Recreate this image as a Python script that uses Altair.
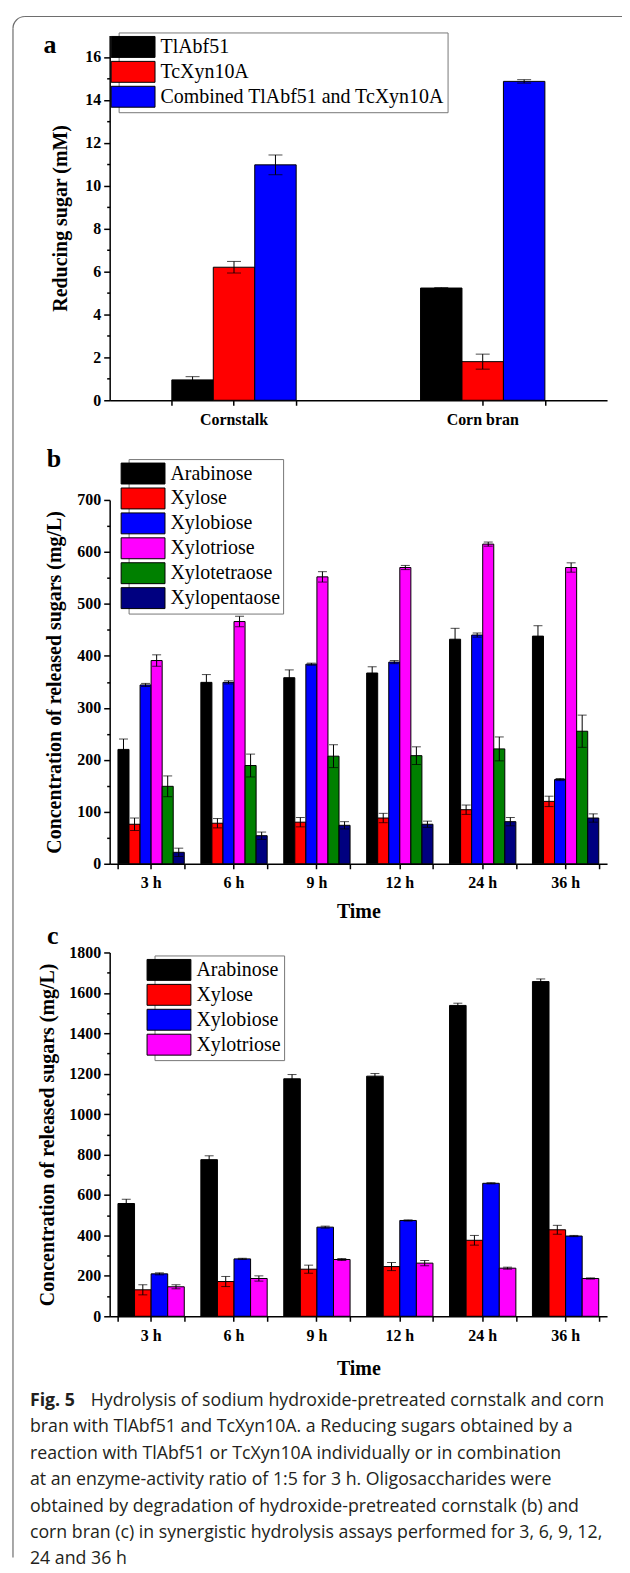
import altair as alt
import pandas as pd

SERIF = "Liberation Serif"
SANS = "Open Sans"

# ---------------- panel a data ----------------
substrates = ["Cornstalk", "Corn bran"]
enzymes = ["TlAbf51", "TcXyn10A", "Combined TlAbf51 and TcXyn10A"]
enzyme_colors = ["#000000", "#ff0000", "#0000ff"]
a_tlabf51 = [0.95, 5.23]
a_tlabf51_err = [0.15, 0.02]
a_tcxyn10a = [6.20, 1.80]
a_tcxyn10a_err = [0.27, 0.35]
a_combined = [10.97, 14.86]
a_combined_err = [0.46, 0.08]

# ---------------- panel b data ----------------
times = ["3 h", "6 h", "9 h", "12 h", "24 h", "36 h"]
sugars_b = ["Arabinose", "Xylose", "Xylobiose", "Xylotriose", "Xylotetraose", "Xylopentaose"]
colors_b = ["#000000", "#ff0000", "#0000ff", "#ff00ff", "#008000", "#000080"]
b_arabinose = [220, 349, 358, 367, 432, 438]
b_arabinose_err = [20, 15, 15, 12, 21, 20]
b_xylose = [76, 78, 80, 88, 104, 120]
b_xylose_err = [12, 9, 9, 9, 9, 10]
b_xylobiose = [344, 349, 384, 388, 440, 162]
b_xylobiose_err = [3, 3, 2, 3, 4, 2]
b_xylotriose = [391, 466, 552, 570, 615, 570]
b_xylotriose_err = [11, 10, 10, 4, 4, 9]
b_xylotetraose = [149, 189, 207, 208, 221, 255]
b_xylotetraose_err = [20, 22, 22, 17, 23, 31]
b_xylopentaose = [22, 54, 74, 76, 81, 88]
b_xylopentaose_err = [8, 7, 7, 6, 8, 8]

# ---------------- panel c data ----------------
sugars_c = ["Arabinose", "Xylose", "Xylobiose", "Xylotriose"]
colors_c = ["#000000", "#ff0000", "#0000ff", "#ff00ff"]
c_arabinose = [558, 775, 1175, 1188, 1538, 1656]
c_arabinose_err = [21, 19, 21, 13, 11, 13]
c_xylose = [131, 172, 233, 246, 376, 428]
c_xylose_err = [25, 25, 20, 20, 24, 22]
c_xylobiose = [210, 284, 441, 474, 658, 397]
c_xylobiose_err = [5, 3, 5, 3, 3, 3]
c_xylotriose = [146, 187, 281, 263, 238, 187]
c_xylotriose_err = [10, 13, 5, 13, 5, 3]

caption_first = "Fig. 5"
caption_lines = [
    "Hydrolysis of sodium hydroxide-pretreated cornstalk and corn",
    "bran with TlAbf51 and TcXyn10A. a Reducing sugars obtained by a",
    "reaction with TlAbf51 or TcXyn10A individually or in combination",
    "at an enzyme-activity ratio of 1:5 for 3 h. Oligosaccharides were",
    "obtained by degradation of hydroxide-pretreated cornstalk (b) and",
    "corn bran (c) in synergistic hydrolysis assays performed for 3, 6, 9, 12,",
    "24 and 36 h",
]


def long_table(groups, series, values, errors):
    rows = []
    for s, vals, errs in zip(series, values, errors):
        for g, v, e in zip(groups, vals, errs):
            rows.append({"group": g, "series": s, "value": v, "lo": v - e, "hi": v + e})
    return pd.DataFrame(rows)


df_a = long_table(substrates, enzymes, [a_tlabf51, a_tcxyn10a, a_combined],
                  [a_tlabf51_err, a_tcxyn10a_err, a_combined_err])
df_b = long_table(times, sugars_b,
                  [b_arabinose, b_xylose, b_xylobiose, b_xylotriose, b_xylotetraose, b_xylopentaose],
                  [b_arabinose_err, b_xylose_err, b_xylobiose_err, b_xylotriose_err,
                   b_xylotetraose_err, b_xylopentaose_err])
df_c = long_table(times, sugars_c, [c_arabinose, c_xylose, c_xylobiose, c_xylotriose],
                  [c_arabinose_err, c_xylose_err, c_xylobiose_err, c_xylotriose_err])

W = 499
# swatch 44 x 21 px drawn with a nominal symbol size of 22 px
SWATCH = "M-2,-0.954L2,-0.954L2,0.954L-2,0.954Z"


def panel(df, groups, series, colors, ytitle, ydomain, ymajor, yminor, height, pin, pout, cap,
          letter, letter_xy, legend_xy, title_x, xtitle=None, xtitle_y=50):
    xs = alt.Scale(domain=groups, paddingInner=pin, paddingOuter=pout)
    xos = alt.Scale(domain=series, paddingInner=0, paddingOuter=0)
    ys = alt.Scale(domain=ydomain, nice=False, zero=True)
    base = alt.Chart(df)
    x_main = alt.X("group:N", scale=xs, sort=groups,
                   axis=alt.Axis(title=xtitle, labelAngle=0, tickSize=5, labelPadding=14,
                                 labelBaseline="middle", titleY=xtitle_y, titleBaseline="middle",
                                 orient="bottom"))
    x_plain = alt.X("group:N", scale=xs, sort=groups, axis=None)
    x_minor = alt.X("group:N", scale=xs, sort=groups,
                    axis=alt.Axis(tickBand="extent", labels=False, domain=False, title=None,
                                  tickSize=5, orient="bottom"))
    xo = alt.XOffset("series:N", scale=xos, sort=series)
    y_main = alt.Y("value:Q", scale=ys,
                   axis=alt.Axis(values=ymajor, format="d", title=ytitle, tickSize=6,
                                 labelPadding=3, titleX=title_x, titleY=height / 2,
                                 titleAlign="center", titleBaseline="middle", orient="left"))
    y_minor = alt.Y("value:Q", scale=ys,
                    axis=alt.Axis(values=yminor, labels=False, domain=False, title=None,
                                  tickSize=3, orient="left"))
    color = alt.Color("series:N", sort=series,
                      scale=alt.Scale(domain=series, range=colors),
                      legend=alt.Legend(orient="none", legendX=legend_xy[0], legendY=legend_xy[1],
                                        title=None, symbolType=SWATCH, symbolSize=22 * 22,
                                        symbolStrokeColor="black", symbolStrokeWidth=1,
                                        symbolOpacity=1, labelFont=SERIF, labelFontSize=20,
                                        labelColor="black", labelLimit=0, labelOffset=16,
                                        strokeColor="#777777", fillColor="white",
                                        padding=3, rowPadding=0))
    bars = base.mark_bar(stroke="black", strokeWidth=1, opacity=1).encode(
        x=x_main, xOffset=xo, y=y_main, color=color)
    rules = base.mark_rule(color="black", strokeWidth=1).encode(
        x=x_plain, xOffset=xo, y=alt.Y("lo:Q", scale=ys, axis=None), y2="hi:Q")
    cap_lo = base.mark_tick(color="black", size=cap, thickness=1).encode(
        x=x_plain, xOffset=xo, y=alt.Y("lo:Q", scale=ys, axis=None))
    cap_hi = base.mark_tick(color="black", size=cap, thickness=1).encode(
        x=x_plain, xOffset=xo, y=alt.Y("hi:Q", scale=ys, axis=None))
    minor = base.mark_bar(opacity=0).encode(x=x_minor, y=y_minor)
    lab = alt.Chart(pd.DataFrame({"t": [letter]})).mark_text(
        font=SERIF, fontSize=26, fontWeight="bold", align="center", baseline="middle",
        color="black").encode(x=alt.value(letter_xy[0]), y=alt.value(letter_xy[1]), text="t:N")
    return [bars, rules, cap_lo, cap_hi, minor, lab]


one = pd.DataFrame({"k": [0]})
FRAME = "#6e6e6e"
frame_top = alt.Chart(one).mark_rule(color=FRAME, strokeWidth=1.2).encode(
    x=alt.value(-85), x2=alt.value(515), y=alt.value(-19))
frame_left = alt.Chart(one).mark_rule(color=FRAME, strokeWidth=1.2).encode(
    y=alt.value(-7), y2=alt.value(1527), x=alt.value(-97))
corner_l = alt.Chart(one).mark_arc(filled=False, color=FRAME, strokeWidth=1.2,
                                   radius=12, radius2=12, theta=4.712, theta2=6.283).encode(
    x=alt.value(-85), y=alt.value(-7))

layers_a = panel(df_a, substrates, enzymes, enzyme_colors, "Reducing sugar (mM)", [0, 17],
                 list(range(0, 17, 2)), list(range(1, 17, 2)), 366, 0.5, 0.25, 14,
                 "a", (-60, 10), (9, -3), -49)
chart_a = alt.layer(*layers_a, frame_top, frame_left, corner_l).resolve_axis(
    x="independent", y="independent").properties(width=W, height=366)

layers_b = panel(df_b, times, sugars_b, colors_b, "Concentration of released sugars (mg/L)",
                 [0, 700], list(range(0, 701, 100)), list(range(50, 700, 100)), 365, 0.2, 0.1, 9,
                 "b", (-56, -41), (19, -41), -55, xtitle="Time", xtitle_y=48)
chart_b = alt.layer(*layers_b).resolve_axis(x="independent", y="independent").properties(
    width=W, height=365)

layers_c = panel(df_c, times, sugars_c, colors_c, "Concentration of released sugars (mg/L)",
                 [0, 1800], list(range(0, 1801, 200)), list(range(100, 1800, 200)), 365, 0.2, 0.1, 9,
                 "c", (-57, -16), (45, 3), -62, xtitle="Time", xtitle_y=52)
chart_c = alt.layer(*layers_c).resolve_axis(x="independent", y="independent").properties(
    width=W, height=365)

# caption: first line (bold "Fig. 5" + rest) and a multi-line block for the remaining lines
CAP_FS = 17.8
CAP_LH = 26.5
CAP_Y0 = 6
cap_df = pd.DataFrame({"fig": [caption_first], "first": [caption_lines[0]],
                       "rest": ["\n".join(caption_lines[1:])]})
cap_base = alt.Chart(cap_df)
cap_fig = cap_base.mark_text(align="left", baseline="alphabetic", font=SANS, fontSize=CAP_FS,
                             fontWeight="bold", color="#231f20").encode(
    x=alt.value(-80), y=alt.value(CAP_Y0), text="fig:N")
cap_first = cap_base.mark_text(align="left", baseline="alphabetic", font=SANS, fontSize=CAP_FS,
                               color="#231f20").encode(
    x=alt.value(-19), y=alt.value(CAP_Y0), text="first:N")
cap_rest = cap_base.mark_text(align="left", baseline="alphabetic", font=SANS, fontSize=CAP_FS,
                              color="#231f20", lineBreak="\n", lineHeight=CAP_LH).encode(
    x=alt.value(-80), y=alt.value(CAP_Y0 + CAP_LH), text="rest:N")
caption = alt.layer(cap_fig, cap_first, cap_rest).properties(width=W, height=157)


def spacer(h):
    return alt.Chart(one).mark_point(opacity=0).encode(
        x=alt.value(0), y=alt.value(0)).properties(width=W, height=h)


chart = alt.vconcat(chart_a, spacer(100), chart_b, spacer(89), chart_c, spacer(84), caption,
                    spacing=0, bounds="flush").resolve_scale(
    color="independent", xOffset="independent", x="independent", y="independent"
).resolve_legend(color="independent").properties(
    padding={"left": 2, "top": -132, "right": -2, "bottom": 0}
).configure_view(stroke=None).configure_axis(
    domainColor="black", domainWidth=1.5, tickColor="black", tickWidth=1.5,
    labelFont=SERIF, labelFontSize=16, labelFontWeight="bold", labelColor="black",
    titleFont=SERIF, titleFontSize=20, titleFontWeight="bold", titleColor="black", grid=False
).configure_legend(labelFont=SERIF)

chart.save("out.html", embed_options={"renderer": "svg", "actions": False})
